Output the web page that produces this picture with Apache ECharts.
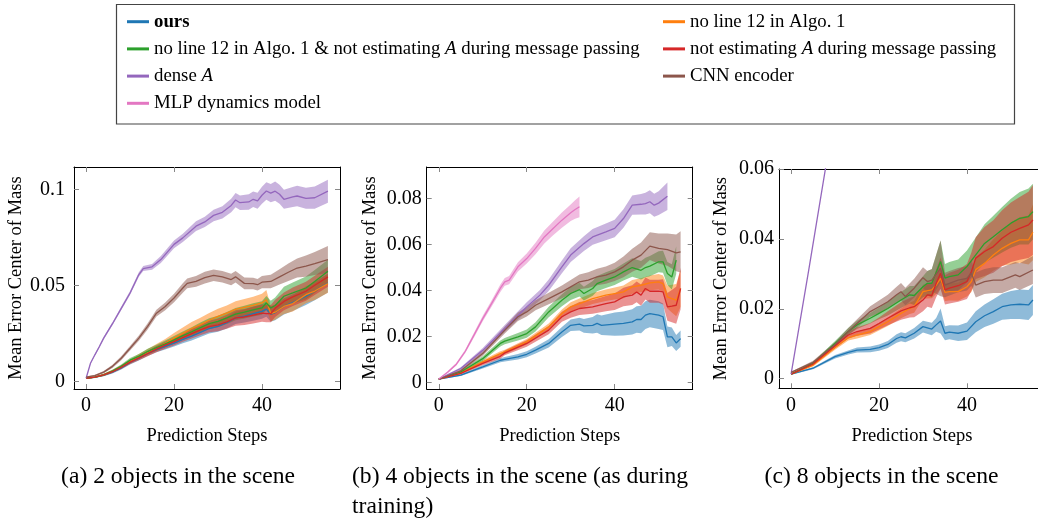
<!DOCTYPE html>
<html>
<head>
<meta charset="utf-8">
<script src="https://cdn.jsdelivr.net/npm/echarts@6/dist/echarts.min.js"></script>
<style>
  html, body { margin: 0; padding: 0; background: #fff; }
  #chart { width: 1038px; height: 519px; }
</style>
</head>
<body>
<div id="chart"></div>
<script>
// ---- series names / colours ----
const NAME_OURS = "ours";
const NAME_NOL12 = "no line 12 in Algo. 1";
const NAME_BOTH = "no line 12 in Algo. 1 & not estimating A during message passing";
const NAME_NOEST = "not estimating A during message passing";
const NAME_DENSE = "dense A";
const NAME_CNN = "CNN encoder";
const NAME_MLP = "MLP dynamics model";

const xTicks = [0, 20, 40];
const yTicksA = [0, 0.05, 0.1];
const yTicksB = [0, 0.02, 0.04, 0.06, 0.08];
const yTicksC = [0, 0.02, 0.04, 0.06];

// ---- (a) 2 objects ----
const a_ours_x = [0,2,4,6,8,10,12,14,16,18,20,22,24,26,28,30,32,34,36,38,40,41,42,43,45,47,50,52,55];
const a_ours_y = [0.0016,0.0021,0.0032,0.0048,0.0070,0.0098,0.0120,0.0145,0.0165,0.0182,0.0199,0.0218,0.0235,0.0255,0.0275,0.0286,0.0305,0.0330,0.0340,0.0352,0.0364,0.0376,0.0350,0.0358,0.0390,0.0410,0.0443,0.0470,0.0512];
const a_ours_sd = [0.0003,0.0003,0.0005,0.0007,0.0009,0.0010,0.0012,0.0013,0.0014,0.0016,0.0018,0.0020,0.0022,0.0024,0.0026,0.0028,0.0030,0.0032,0.0034,0.0036,0.0038,0.0040,0.0040,0.0040,0.0042,0.0044,0.0046,0.0048,0.0050];

const a_nol12_x = a_ours_x;
const a_nol12_y = [0.0016,0.0022,0.0034,0.0052,0.0075,0.0103,0.0128,0.0152,0.0175,0.0198,0.0225,0.0250,0.0275,0.0295,0.0318,0.0338,0.0355,0.0375,0.0385,0.0395,0.0408,0.0425,0.0352,0.0360,0.0390,0.0405,0.0451,0.0470,0.0509];
const a_nol12_sd = [0.0003,0.0004,0.0006,0.0008,0.0010,0.0012,0.0014,0.0016,0.0019,0.0022,0.0026,0.0030,0.0034,0.0036,0.0038,0.0040,0.0040,0.0042,0.0044,0.0046,0.0048,0.0050,0.0040,0.0040,0.0040,0.0042,0.0044,0.0046,0.0048];

const a_both_x = a_ours_x;
const a_both_y = [0.0016,0.0022,0.0034,0.0053,0.0078,0.0110,0.0130,0.0155,0.0175,0.0195,0.0216,0.0238,0.0258,0.0280,0.0300,0.0312,0.0330,0.0350,0.0360,0.0372,0.0382,0.0408,0.0382,0.0395,0.0443,0.0460,0.0486,0.0520,0.0573];
const a_both_sd = [0.0003,0.0003,0.0005,0.0007,0.0009,0.0011,0.0012,0.0014,0.0016,0.0018,0.0020,0.0022,0.0024,0.0026,0.0028,0.0030,0.0031,0.0032,0.0033,0.0034,0.0035,0.0036,0.0038,0.0042,0.0050,0.0055,0.0060,0.0060,0.0060];

const a_noest_x = a_ours_x;
const a_noest_y = [0.0016,0.0022,0.0033,0.0050,0.0073,0.0100,0.0122,0.0145,0.0168,0.0188,0.0207,0.0228,0.0248,0.0268,0.0285,0.0294,0.0310,0.0330,0.0335,0.0345,0.0355,0.0352,0.0352,0.0380,0.0416,0.0440,0.0469,0.0500,0.0544];
const a_noest_sd = [0.0003,0.0003,0.0005,0.0007,0.0009,0.0010,0.0012,0.0014,0.0016,0.0018,0.0020,0.0022,0.0025,0.0028,0.0030,0.0033,0.0036,0.0040,0.0042,0.0044,0.0045,0.0045,0.0045,0.0045,0.0046,0.0048,0.0050,0.0050,0.0052];

const a_dense_x = [0,1,2,3,4,6,8,10,12,13,15,17,20,22,25,27,29,31,33,34,35,37,38,39,40,41,42,43,44,45,47,48,50,52,55];
const a_dense_y = [0.0016,0.0094,0.0138,0.0180,0.0225,0.0300,0.0380,0.0460,0.0556,0.0587,0.0596,0.0634,0.0713,0.0747,0.0808,0.0830,0.0864,0.0880,0.0916,0.0944,0.0930,0.0934,0.0948,0.0940,0.0969,0.0991,0.0980,0.0990,0.0974,0.0948,0.0960,0.0965,0.0953,0.0956,0.0990];
const a_dense_sd = [0.0002,0.0004,0.0005,0.0006,0.0007,0.0008,0.0009,0.0010,0.0012,0.0013,0.0015,0.0018,0.0020,0.0022,0.0025,0.0027,0.0030,0.0032,0.0035,0.0037,0.0038,0.0040,0.0040,0.0042,0.0044,0.0046,0.0048,0.0050,0.0050,0.0050,0.0052,0.0054,0.0055,0.0058,0.0060];

const a_cnn_x = [0,2,4,6,8,10,12,14,16,18,20,22,23,25,27,29,31,33,34,36,38,39,40,42,44,46,48,50,52,55];
const a_cnn_y = [0.0022,0.0030,0.0048,0.0078,0.0120,0.0172,0.0225,0.0286,0.0355,0.0390,0.0434,0.0486,0.0510,0.0520,0.0540,0.0552,0.0544,0.0530,0.0544,0.0510,0.0509,0.0503,0.0516,0.0520,0.0544,0.0568,0.0590,0.0600,0.0613,0.0634];
const a_cnn_sd = [0.0003,0.0004,0.0006,0.0008,0.0010,0.0012,0.0014,0.0016,0.0018,0.0020,0.0022,0.0025,0.0026,0.0028,0.0030,0.0030,0.0030,0.0030,0.0030,0.0030,0.0030,0.0030,0.0032,0.0035,0.0040,0.0045,0.0050,0.0055,0.0060,0.0070];

// ---- (b) 4 objects ----
const b_ours_x = [0,5,10,14,15,18,20,22,25,28,30,32,33,35,36,37,40,42,44,45,46,47,48,50,51,52,53,54,55];
const b_ours_y = [0.0015,0.0032,0.0068,0.0097,0.0101,0.0112,0.0123,0.0141,0.0170,0.0220,0.0249,0.0254,0.0246,0.0249,0.0257,0.0249,0.0254,0.0257,0.0264,0.0274,0.0274,0.0293,0.0300,0.0293,0.0286,0.0199,0.0199,0.0172,0.0191];
const b_ours_sd = [0.0002,0.0004,0.0007,0.0009,0.0010,0.0012,0.0013,0.0015,0.0018,0.0022,0.0025,0.0028,0.0030,0.0036,0.0040,0.0042,0.0050,0.0052,0.0055,0.0058,0.0060,0.0060,0.0060,0.0060,0.0058,0.0045,0.0040,0.0035,0.0035];

const b_nol12_x = [0,5,10,14,15,20,25,28,30,32,35,38,40,42,44,46,48,50,51,52,53,54,55];
const b_nol12_y = [0.0015,0.0042,0.0090,0.0126,0.0133,0.0177,0.0242,0.0300,0.0329,0.0343,0.0365,0.0380,0.0387,0.0394,0.0416,0.0423,0.0433,0.0438,0.0430,0.0372,0.0365,0.0358,0.0409];
const b_nol12_sd = [0.0002,0.0004,0.0008,0.0010,0.0010,0.0012,0.0015,0.0018,0.0020,0.0022,0.0024,0.0025,0.0026,0.0028,0.0030,0.0030,0.0032,0.0034,0.0035,0.0050,0.0060,0.0070,0.0080];

const b_both_x = [0,5,10,14,15,18,20,22,25,28,30,32,33,35,36,38,40,42,44,46,47,48,50,51,52,53,54];
const b_both_y = [0.0015,0.0046,0.0104,0.0170,0.0180,0.0199,0.0213,0.0242,0.0307,0.0358,0.0387,0.0404,0.0387,0.0409,0.0430,0.0445,0.0459,0.0481,0.0500,0.0488,0.0500,0.0506,0.0525,0.0525,0.0474,0.0459,0.0532];
const b_both_sd = [0.0002,0.0005,0.0010,0.0013,0.0014,0.0016,0.0018,0.0020,0.0023,0.0026,0.0028,0.0030,0.0030,0.0032,0.0033,0.0034,0.0035,0.0037,0.0040,0.0040,0.0042,0.0044,0.0046,0.0048,0.0050,0.0055,0.0060];

const b_noest_x = [0,5,10,14,15,20,25,28,30,32,35,38,40,42,44,45,46,47,48,50,51,52,53,54,55];
const b_noest_y = [0.0015,0.0040,0.0083,0.0114,0.0129,0.0170,0.0228,0.0286,0.0307,0.0322,0.0329,0.0343,0.0351,0.0372,0.0380,0.0394,0.0380,0.0409,0.0397,0.0397,0.0394,0.0329,0.0332,0.0336,0.0409];
const b_noest_sd = [0.0002,0.0005,0.0008,0.0010,0.0010,0.0014,0.0018,0.0022,0.0025,0.0028,0.0030,0.0033,0.0036,0.0040,0.0043,0.0045,0.0046,0.0048,0.0050,0.0050,0.0055,0.0060,0.0070,0.0080,0.0090];

const b_dense_x = [0,5,10,15,20,23,25,28,30,33,35,38,40,42,44,46,47,48,49,50,52];
const b_dense_y = [0.0015,0.0061,0.0140,0.0235,0.0329,0.0380,0.0423,0.0503,0.0554,0.0604,0.0633,0.0655,0.0670,0.0713,0.0771,0.0775,0.0778,0.0786,0.0771,0.0780,0.0810];
const b_dense_sd = [0.0002,0.0006,0.0010,0.0015,0.0020,0.0022,0.0025,0.0028,0.0030,0.0032,0.0034,0.0036,0.0038,0.0040,0.0042,0.0045,0.0047,0.0050,0.0050,0.0052,0.0060];

const b_cnn_x = [0,5,10,15,18,20,22,25,28,30,32,34,36,38,40,42,44,46,48,50,52,54,55];
const b_cnn_y = [0.0015,0.0051,0.0126,0.0228,0.0286,0.0307,0.0336,0.0365,0.0394,0.0416,0.0438,0.0445,0.0459,0.0467,0.0481,0.0503,0.0532,0.0554,0.0593,0.0583,0.0578,0.0564,0.0568];
const b_cnn_sd = [0.0002,0.0006,0.0010,0.0015,0.0018,0.0020,0.0022,0.0025,0.0028,0.0030,0.0032,0.0034,0.0036,0.0038,0.0040,0.0045,0.0050,0.0055,0.0060,0.0065,0.0070,0.0080,0.0090];

const b_mlp_x = [0,2,4,6,8,10,12,14,15,16,18,20,22,24,26,28,30,31,32];
const b_mlp_y = [0.0015,0.0045,0.0080,0.0135,0.0206,0.0278,0.0343,0.0410,0.0438,0.0445,0.0503,0.0539,0.0583,0.0633,0.0670,0.0706,0.0738,0.0752,0.0764];
const b_mlp_sd = [0.0002,0.0004,0.0006,0.0008,0.0010,0.0012,0.0014,0.0016,0.0017,0.0018,0.0020,0.0022,0.0025,0.0028,0.0030,0.0033,0.0036,0.0040,0.0045];

// ---- (c) 8 objects ----
const c_ours_x = [0,5,10,13,15,18,20,22,24,25,26,28,30,32,33,34,35,36,38,40,42,44,46,48,50,52,54,55];
const c_ours_y = [0.0013,0.0030,0.0063,0.0075,0.0082,0.0084,0.0089,0.0098,0.0115,0.0120,0.0117,0.0130,0.0149,0.0142,0.0154,0.0165,0.0130,0.0133,0.0130,0.0136,0.0163,0.0180,0.0192,0.0206,0.0211,0.0213,0.0211,0.0225];
const c_ours_sd = [0.0002,0.0003,0.0005,0.0006,0.0007,0.0008,0.0009,0.0010,0.0012,0.0013,0.0013,0.0015,0.0017,0.0018,0.0020,0.0036,0.0020,0.0020,0.0022,0.0025,0.0030,0.0032,0.0035,0.0037,0.0040,0.0042,0.0043,0.0043];

const c_nol12_x = [0,5,10,13,15,18,20,22,25,27,28,30,32,33,34,35,36,38,40,41,42,44,46,48,50,52,54,55];
const c_nol12_y = [0.0013,0.0039,0.0089,0.0117,0.0125,0.0135,0.0149,0.0163,0.0187,0.0201,0.0206,0.0249,0.0254,0.0268,0.0287,0.0247,0.0249,0.0249,0.0263,0.0278,0.0312,0.0330,0.0354,0.0373,0.0387,0.0397,0.0397,0.0419];
const c_nol12_sd = [0.0002,0.0004,0.0006,0.0008,0.0010,0.0010,0.0011,0.0012,0.0014,0.0016,0.0017,0.0020,0.0024,0.0026,0.0030,0.0025,0.0025,0.0026,0.0028,0.0030,0.0035,0.0040,0.0045,0.0050,0.0060,0.0065,0.0070,0.0080];

const c_both_x = [0,5,10,13,15,18,20,22,25,27,28,30,31,32,34,35,36,38,40,42,44,46,48,50,52,54,55];
const c_both_y = [0.0013,0.0044,0.0101,0.0135,0.0154,0.0173,0.0187,0.0201,0.0225,0.0240,0.0238,0.0263,0.0273,0.0273,0.0335,0.0288,0.0292,0.0297,0.0321,0.0354,0.0387,0.0406,0.0426,0.0445,0.0459,0.0464,0.0478];
const c_both_sd = [0.0002,0.0004,0.0007,0.0010,0.0012,0.0015,0.0017,0.0020,0.0023,0.0025,0.0027,0.0030,0.0035,0.0040,0.0060,0.0040,0.0042,0.0044,0.0046,0.0050,0.0055,0.0060,0.0065,0.0070,0.0075,0.0080,0.0080];

const c_noest_x = [0,5,10,13,15,18,20,22,25,27,28,30,31,32,33,34,35,36,38,40,41,42,44,46,48,50,52,54,55];
const c_noest_y = [0.0013,0.0042,0.0094,0.0125,0.0135,0.0144,0.0158,0.0173,0.0194,0.0203,0.0206,0.0225,0.0240,0.0238,0.0273,0.0302,0.0254,0.0259,0.0266,0.0278,0.0306,0.0345,0.0364,0.0378,0.0402,0.0419,0.0430,0.0440,0.0454];
const c_noest_sd = [0.0002,0.0004,0.0007,0.0010,0.0012,0.0015,0.0017,0.0020,0.0025,0.0028,0.0030,0.0032,0.0034,0.0036,0.0040,0.0045,0.0042,0.0044,0.0046,0.0050,0.0055,0.0060,0.0070,0.0075,0.0080,0.0085,0.0090,0.0095,0.0100];

const c_dense_x = [0,4,8];
const c_dense_y = [0.0013,0.0310,0.0615];

const c_cnn_x = [0,5,10,13,15,18,20,22,24,25,26,28,30,31,32,34,35,36,38,40,41,42,44,46,48,50,51,52,55];
const c_cnn_y = [0.0018,0.0047,0.0098,0.0135,0.0158,0.0192,0.0206,0.0220,0.0240,0.0249,0.0235,0.0259,0.0289,0.0278,0.0282,0.0316,0.0268,0.0273,0.0282,0.0287,0.0302,0.0268,0.0278,0.0282,0.0282,0.0292,0.0297,0.0292,0.0311];
const c_cnn_sd = [0.0002,0.0004,0.0007,0.0010,0.0012,0.0015,0.0018,0.0020,0.0023,0.0025,0.0025,0.0027,0.0030,0.0030,0.0032,0.0080,0.0035,0.0035,0.0035,0.0035,0.0036,0.0036,0.0036,0.0037,0.0037,0.0037,0.0037,0.0038,0.0040];

// ---- build chart ----
const FONT = '"Liberation Serif", "Times New Roman", serif';
const COLORS = {
  ours: "#1f77b4", nol12: "#ff7f0e", both: "#2ca02c", noest: "#d62728",
  dense: "#9467bd", cnn: "#8c564b", mlp: "#e377c2"
};
const NAMES = {
  ours: NAME_OURS, nol12: NAME_NOL12, both: NAME_BOTH, noest: NAME_NOEST,
  dense: NAME_DENSE, cnn: NAME_CNN, mlp: NAME_MLP
};

const panels = [
  {
    grid: { left: 74, top: 167, width: 266, height: 222 },
    ymin: -0.004, ymax: 0.1116, yTicks: yTicksA, labelMargin: 9, nameGap: 47,
    curves: [
      ["ours", a_ours_x, a_ours_y, a_ours_sd],
      ["nol12", a_nol12_x, a_nol12_y, a_nol12_sd],
      ["both", a_both_x, a_both_y, a_both_sd],
      ["noest", a_noest_x, a_noest_y, a_noest_sd],
      ["dense", a_dense_x, a_dense_y, a_dense_sd],
      ["cnn", a_cnn_x, a_cnn_y, a_cnn_sd]
    ]
  },
  {
    grid: { left: 426.7, top: 167, width: 266, height: 222 },
    ymin: -0.0028, ymax: 0.0937, yTicks: yTicksB, labelMargin: 5, nameGap: 47,
    curves: [
      ["ours", b_ours_x, b_ours_y, b_ours_sd],
      ["nol12", b_nol12_x, b_nol12_y, b_nol12_sd],
      ["both", b_both_x, b_both_y, b_both_sd],
      ["noest", b_noest_x, b_noest_y, b_noest_sd],
      ["dense", b_dense_x, b_dense_y, b_dense_sd],
      ["cnn", b_cnn_x, b_cnn_y, b_cnn_sd],
      ["mlp", b_mlp_x, b_mlp_y, b_mlp_sd]
    ]
  },
  {
    grid: { left: 779, top: 169, width: 266, height: 219.3 },
    ymin: -0.00275, ymax: 0.06, yTicks: yTicksC, labelMargin: 5, nameGap: 48,
    curves: [
      ["ours", c_ours_x, c_ours_y, c_ours_sd],
      ["nol12", c_nol12_x, c_nol12_y, c_nol12_sd],
      ["both", c_both_x, c_both_y, c_both_sd],
      ["noest", c_noest_x, c_noest_y, c_noest_sd],
      ["dense", c_dense_x, c_dense_y, null],
      ["cnn", c_cnn_x, c_cnn_y, c_cnn_sd]
    ]
  }
];

const grids = [], xAxes = [], yAxes = [], bandSeries = [], lineSeries = [];
const tickStyle = { color: "#888", width: 1 };
const frameStyle = { color: "#000", width: 1 };

// shaded mean +- sd band, drawn as one polygon through the axis scales
function bandRenderer(color) {
  return function (params, api) {
    if (params.dataIndex !== 0) return null;
    const n = params.dataInsideLength;
    const upper = [], lower = [];
    for (let i = 0; i < n; i++) {
      const x = api.value(0, i);
      upper.push(api.coord([x, api.value(2, i)]));
      lower.push(api.coord([x, api.value(1, i)]));
    }
    const cs = params.coordSys;
    return {
      type: "polygon",
      shape: { points: upper.concat(lower.reverse()) },
      style: { fill: color, opacity: 0.5 },
      clipPath: { type: "rect", shape: { x: cs.x, y: cs.y, width: cs.width, height: cs.height } },
      silent: true
    };
  };
}

panels.forEach((p, pi) => {
  grids.push(Object.assign({ containLabel: false, outerBoundsMode: "none" }, p.grid));

  xAxes.push({
    gridIndex: pi, type: "value", min: -2.75, max: 57.75, position: "bottom",
    axisLine: { show: true, onZero: false, lineStyle: frameStyle },
    axisTick: { show: true, inside: true, length: 5, customValues: xTicks, lineStyle: tickStyle },
    axisLabel: { customValues: xTicks, margin: 7, color: "#000", fontFamily: FONT, fontSize: 20 },
    splitLine: { show: false },
    name: "Prediction Steps", nameLocation: "middle", nameGap: 38,
    nameTextStyle: { color: "#000", fontFamily: FONT, fontSize: 18.5 }
  });
  xAxes.push({
    gridIndex: pi, type: "value", min: -2.75, max: 57.75, position: "top",
    axisLine: { show: true, onZero: false, lineStyle: frameStyle },
    axisTick: { show: true, inside: true, length: 5, customValues: xTicks, lineStyle: tickStyle },
    axisLabel: { show: false },
    splitLine: { show: false }
  });
  yAxes.push({
    gridIndex: pi, type: "value", min: p.ymin, max: p.ymax, position: "left",
    axisLine: { show: true, onZero: false, lineStyle: frameStyle },
    axisTick: { show: true, inside: true, length: 5, customValues: p.yTicks, lineStyle: tickStyle },
    axisLabel: {
      customValues: p.yTicks, margin: p.labelMargin, color: "#000", fontFamily: FONT, fontSize: 20,
      formatter: v => (v === 0 ? "0" : String(+v.toFixed(3)))
    },
    splitLine: { show: false },
    name: "Mean Error Center of Mass", nameLocation: "middle", nameGap: p.nameGap,
    nameTextStyle: { color: "#000", fontFamily: FONT, fontSize: 18.5 }
  });
  yAxes.push({
    gridIndex: pi, type: "value", min: p.ymin, max: p.ymax, position: "right",
    axisLine: { show: true, onZero: false, lineStyle: frameStyle },
    axisTick: { show: true, inside: true, length: 5, customValues: p.yTicks, lineStyle: tickStyle },
    axisLabel: { show: false },
    splitLine: { show: false }
  });

  p.curves.forEach(([key, xs, ys, sd]) => {
    const color = COLORS[key];
    const axisIdx = { xAxisIndex: pi * 2, yAxisIndex: pi * 2 };
    if (sd) {
      bandSeries.push(Object.assign({
        type: "custom", name: NAMES[key] + " (band)",
        data: xs.map((x, i) => [x, ys[i] - sd[i], ys[i] + sd[i]]),
        encode: { x: 0, y: [1, 2] },
        renderItem: bandRenderer(color),
        silent: true, z: 1
      }, axisIdx));
    }
    lineSeries.push(Object.assign({
      type: "line", name: NAMES[key],
      data: xs.map((x, i) => [x, ys[i]]),
      symbol: "none", color: color,
      lineStyle: { color: color, width: 1.3 }, z: 2
    }, axisIdx));
  });
});

const richBase = { fontFamily: FONT, fontSize: 18.8, color: "#000", lineHeight: 20 };
function legendFormatter(name) {
  if (name === NAME_OURS) return "{b|ours}";
  return name.split(/\b(A)\b/).map((part, i) => {
    if (!part) return "";
    return i % 2 === 1 ? "{i|" + part + "}" : "{n|" + part + "}";
  }).join("");
}
const legendCommon = {
  orient: "vertical", top: 11.7, padding: 0, itemWidth: 22, itemHeight: 3, itemGap: 7.2,
  icon: "rect", selectedMode: false, formatter: legendFormatter,
  textStyle: Object.assign({}, richBase, {
    rich: {
      n: Object.assign({}, richBase),
      i: Object.assign({}, richBase, { fontStyle: "italic" }),
      b: Object.assign({}, richBase, { fontWeight: "bold" })
    }
  })
};

const captionStyle = { fill: "#000", fontFamily: FONT, fontSize: 23.6, verticalAlign: "middle" };

const chart = echarts.init(document.getElementById("chart"));
chart.setOption({
  animation: false,
  backgroundColor: "#fff",
  grid: grids,
  xAxis: xAxes,
  yAxis: yAxes,
  legend: [
    Object.assign({ left: 127, data: [NAME_OURS, NAME_BOTH, NAME_DENSE, NAME_MLP] }, legendCommon),
    Object.assign({ left: 663, data: [NAME_NOL12, NAME_NOEST, NAME_CNN] }, legendCommon)
  ],
  graphic: [
    { type: "rect", shape: { x: 116.5, y: 4.5, width: 898, height: 119.5 },
      style: { fill: "none", stroke: "#444", lineWidth: 1.2 }, silent: true },
    { type: "text", x: 178, y: 476.7,
      style: Object.assign({ text: "(a) 2 objects in the scene", align: "center" }, captionStyle) },
    { type: "text", x: 352, y: 476.7,
      style: Object.assign({ text: "(b) 4 objects in the scene (as during", align: "left" }, captionStyle) },
    { type: "text", x: 352, y: 506.7,
      style: Object.assign({ text: "training)", align: "left" }, captionStyle) },
    { type: "text", x: 881.5, y: 476.7,
      style: Object.assign({ text: "(c) 8 objects in the scene", align: "center" }, captionStyle) }
  ],
  series: bandSeries.concat(lineSeries)
});
</script>
</body>
</html>
